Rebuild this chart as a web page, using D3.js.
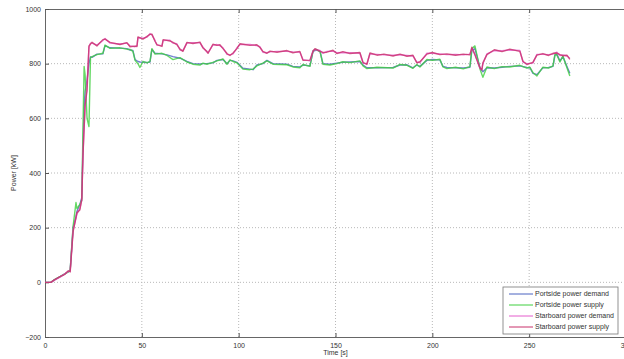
<!DOCTYPE html>
<html>
<head>
<meta charset="utf-8">
<script src="https://cdn.jsdelivr.net/npm/d3@7"></script>
<style>
  body { margin: 0; background: #fff; }
  svg { display: block; font-family: "Liberation Sans", Arial, sans-serif; }
  .grid line { stroke: #b8b8b8; stroke-dasharray: 1,2; }
  .tick text { fill: #333; font-size: 7px; }
</style>
</head>
<body>
<div id="chart"></div>
<script>
    'use strict';

    // x ticks / y ticks
    var timeTicks = [0, 50, 100, 150, 200, 250, 300];
    var powerTicks = [-200, 0, 200, 400, 600, 800, 1000];

    var seriesNames = ["Portside power demand", "Portside power supply", "Starboard power demand", "Starboard power supply"];
    var seriesColors = ["#4a62c0", "#3fcf3f", "#e45ccc", "#c8306a"];

    // portside, time [s]
    var portTime = [0, 3, 5, 8, 10, 12, 13, 14.5, 16, 16.5, 18, 19, 19.6, 20.2, 20.7, 21.7, 22.7, 23.5,
        24.3, 26.8, 29.9, 31, 33.6, 38.7, 42.3, 43.9, 45.4, 46.5, 48, 49, 50.6, 52.7, 54.2, 55.2, 56.8,
        60.4, 63, 66.1, 69.7, 73.3, 76.4, 80, 81.6, 83.6, 86.7, 88.8, 91.9, 94, 95.5, 97.1, 99.1, 102.2,
        105.8, 107.4, 109.4, 112.5, 114.6, 117.7, 124.9, 128, 131.6, 133.2, 136.8, 138.4, 140, 142,
        143.5, 147.1, 150.7, 153.8, 157.5, 162.6, 164.2, 166.2, 171.4, 179.7, 183.3, 186.9, 190, 192,
        193.6, 197.2, 200, 203.9, 205.5, 207.5, 212, 216, 219.4, 220.4, 222, 224.6, 226.1, 228.2, 232,
        236, 240, 245.2, 248.8, 250.4, 251.9, 254, 257.1, 260, 262.3, 263.3, 264.3, 265.9, 267.4, 269.5, 271];
    var portDemand = [0, 0, 10, 22, 30, 38, 45, 200, 240, 260, 285, 310, 500, 640, 700, 740, 800, 825,
        823, 835, 836, 866, 858, 857, 855, 850, 848, 815, 808, 806, 805, 804, 806, 852, 838,
        836, 832, 826, 820, 808, 800, 799, 800, 800, 803, 812, 815, 800, 812, 810, 805, 783,
        780, 778, 795, 800, 812, 800, 798, 790, 788, 795, 792, 845, 850, 846,
        800, 798, 802, 805, 806, 808, 795, 785, 785, 786, 795, 796, 785, 795,
        790, 812, 815, 814, 790, 786, 785, 784, 787, 848, 855, 785, 770, 785, 784,
        787, 790, 792, 786, 785, 765, 760, 785, 786, 790, 830, 835, 810, 826, 790, 765];
    var portSupply = [0, 0, 10, 22, 30, 38, 45, 205, 292, 270, 285, 300, 560, 790, 760, 600, 570, 822,
        826, 833, 838, 868, 856, 858, 853, 852, 845, 812, 800, 786, 808, 803, 808, 855, 835,
        838, 830, 815, 822, 806, 798, 795, 802, 798, 805, 810, 817, 798, 814, 808, 803, 780,
        778, 780, 792, 802, 810, 798, 796, 788, 785, 797, 790, 848, 852, 844,
        798, 795, 800, 807, 804, 810, 792, 782, 787, 784, 797, 794, 783, 797,
        788, 815, 812, 816, 788, 782, 787, 781, 789, 855, 865, 780, 750, 788, 782,
        789, 788, 794, 784, 787, 768, 755, 787, 784, 792, 835, 832, 806, 828, 785, 755];

    // starboard, time [s]
    var starTime = [0, 3, 5, 8, 10, 12, 13, 14.5, 16.5, 18, 19, 19.6, 20.7, 21.7, 22.7, 23.5,
        24.3, 26.8, 29.9, 31, 33.6, 38.7, 42.3, 43.9, 46.5, 47.5, 48, 50.6, 52.7, 54.2, 55.2, 56.8,
        57.8, 60.4, 61, 64.5, 66.1, 68.1, 69.7, 71.2, 73.3, 76.4, 80, 81.6, 83.6, 84.2, 86.7, 88.8,
        90.3, 91.9, 94, 95.5, 97.1, 99.1, 100.7, 105.8, 109.4, 111, 112.5, 114.6, 116.2, 119.8, 124.9,
        128, 131.6, 133.2, 136.8, 138.4, 139.4, 142, 143.5, 145.6, 148.7, 150.7, 153.8, 157.5, 162.6,
        164.2, 166.2, 167.8, 171.4, 175, 179.7, 183.3, 186.9, 190, 192, 193.6, 197.2, 200, 203.9, 207.5,
        212, 216, 219.4, 220.4, 222, 224.6, 225.6, 226.1, 228.2, 232, 236, 240, 245.2, 246.8, 248.8,
        251.9, 254, 257.1, 260, 262.3, 264.3, 265.9, 267.4, 269.5, 271];
    var starDemand = [0, 0, 8, 20, 30, 40, 40, 190, 250, 270, 300, 470, 640, 720, 860, 875,
        875, 868, 885, 892, 875, 872, 875, 865, 862, 866, 895, 893, 897, 910, 905, 885,
        868, 866, 885, 886, 875, 873, 850, 848, 875, 877, 876, 860, 842, 840, 868, 870,
        866, 858, 834, 832, 836, 858, 870, 870, 866, 862, 842, 840, 843, 845, 845,
        843, 842, 815, 810, 848, 852, 848, 838, 845, 846, 840, 841, 840, 838,
        802, 800, 836, 834, 832, 831, 832, 830, 828, 806, 804, 838, 838, 836, 833,
        834, 832, 835, 856, 835, 782, 780, 800, 836, 848, 847, 850, 848, 806, 800,
        802, 834, 834, 833, 835, 842, 830, 832, 828, 820];
    var starSupply = [0, 0, 10, 22, 28, 42, 38, 185, 255, 265, 305, 460, 650, 700, 865, 872,
        878, 865, 888, 890, 878, 870, 877, 862, 864, 863, 898, 890, 900, 907, 908, 882,
        870, 863, 888, 883, 878, 870, 853, 845, 878, 874, 879, 857, 845, 838, 871, 867,
        869, 855, 837, 830, 839, 855, 873, 867, 869, 859, 845, 838, 846, 842, 848,
        840, 845, 812, 813, 845, 855, 845, 841, 842, 849, 837, 844, 837, 841,
        805, 797, 839, 831, 835, 828, 835, 827, 831, 803, 807, 835, 841, 833, 836,
        831, 835, 832, 860, 832, 785, 777, 803, 833, 851, 844, 853, 845, 809, 797,
        805, 831, 837, 830, 838, 839, 833, 829, 831, 816];

    var width = 624, height = 359;
    var margin = { left: 45, right: -2, top: 9, bottom: 22 };

    var svg = d3.select("#chart").append("svg").attr("width", width).attr("height", height);

    var x = d3.scaleLinear().domain([0, 300]).range([margin.left, width - margin.right]);
    var y = d3.scaleLinear().domain([-200, 1000]).range([height - margin.bottom, margin.top]);

    // grid
    var grid = svg.append("g").attr("class", "grid");
    grid.selectAll("line.gx").data(timeTicks.slice(1, -1)).enter().append("line")
        .attr("x1", function(d) { return x(d); }).attr("x2", function(d) { return x(d); })
        .attr("y1", y(-200)).attr("y2", y(1000));
    grid.selectAll("line.gy").data(powerTicks.slice(1, -1)).enter().append("line")
        .attr("y1", function(d) { return y(d); }).attr("y2", function(d) { return y(d); })
        .attr("x1", x(0)).attr("x2", x(300));

    // axes, matlab style ticks pointing inwards
    var xAxis = svg.append("g").attr("transform", "translate(0," + y(-200) + ")")
        .call(d3.axisBottom(x).tickValues(timeTicks).tickSize(-4).tickPadding(6).tickFormat(d3.format("d")));
    var xTop = svg.append("g").attr("transform", "translate(0," + y(1000) + ")")
        .call(d3.axisTop(x).tickValues(timeTicks).tickSize(-4).tickFormat(""));
    var yAxis = svg.append("g").attr("transform", "translate(" + x(0) + ",0)")
        .call(d3.axisLeft(y).tickValues(powerTicks).tickSize(-4).tickPadding(4).tickFormat(d3.format("d")));
    [xAxis, xTop, yAxis].forEach(function(a) {
        a.select(".domain").attr("stroke", "#666");
        a.selectAll(".tick line").attr("stroke", "#555");
    });

    // lines
    var line = d3.line().x(function(d) { return x(d[0]); }).y(function(d) { return y(d[1]); });
    function pairs(t, v) { return t.map(function(d, i) { return [d, v[i]]; }); }
    var seriesData = [
        pairs(portTime, portDemand),
        pairs(portTime, portSupply),
        pairs(starTime, starDemand),
        pairs(starTime, starSupply)
    ];
    svg.append("g").selectAll("path").data(seriesData).enter().append("path")
        .attr("d", line)
        .attr("fill", "none")
        .attr("stroke", function(d, i) { return seriesColors[i]; })
        .attr("stroke-width", 1.4)
        .attr("stroke-opacity", 0.8)
        .attr("stroke-linejoin", "round");

    // axis labels
    svg.append("text").attr("x", x(150)).attr("y", 355).attr("text-anchor", "middle")
        .attr("font-size", 7).attr("fill", "#333").text("Time [s]");
    svg.append("text").attr("transform", "translate(16," + y(400) + ") rotate(-90)")
        .attr("text-anchor", "middle").attr("font-size", 7).attr("fill", "#333").text("Power [kW]");

    // legend
    var legend = svg.append("g").attr("transform", "translate(503,287)");
    legend.append("rect").attr("width", 115).attr("height", 47)
        .attr("fill", "#fff").attr("stroke", "#777").attr("stroke-width", 0.8);
    var rows = legend.selectAll("g.row").data(seriesNames).enter().append("g")
        .attr("transform", function(d, i) { return "translate(0," + (7 + i * 11) + ")"; });
    rows.append("line").attr("x1", 6).attr("x2", 30)
        .attr("stroke", function(d, i) { return seriesColors[i]; }).attr("stroke-width", 1);
    rows.append("text").attr("x", 32).attr("dy", "0.35em").attr("font-size", 7).attr("fill", "#333")
        .text(function(d) { return d; });
</script>
</body>
</html>
